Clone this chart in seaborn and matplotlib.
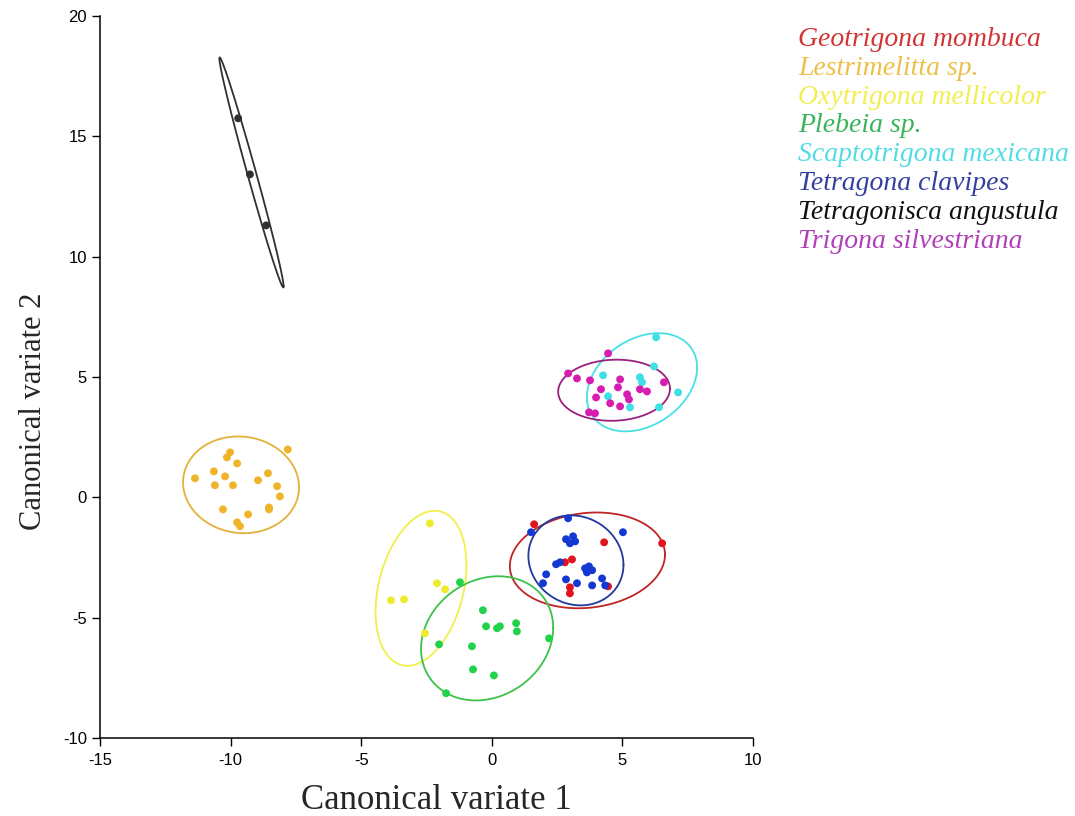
import matplotlib.pyplot as plt
import numpy as np
import pandas as pd
import seaborn as sns

# species, in legend order
species = [
    "Geotrigona mombuca",
    "Lestrimelitta sp.",
    "Oxytrigona mellicolor",
    "Plebeia sp.",
    "Scaptotrigona mexicana",
    "Tetragona clavipes",
    "Tetragonisca angustula",
    "Trigona silvestriana",
]
point_colors = ["#e0141e", "#f0b42a", "#ecec2a", "#22d24a", "#3ee0e6", "#1438d2", "#303030", "#d81cb0"]
ellipse_colors = ["#c02424", "#e2b23a", "#f0f04a", "#3cc24a", "#48e0e4", "#22389c", "#303030", "#9a2080"]
text_colors = ["#d23434", "#ecc048", "#f2ee50", "#38b45a", "#52dce4", "#3440a0", "#101010", "#b040b8"]

# canonical scores
geo_x = [1.62, 4.30, 6.52, 2.80, 3.07, 2.99, 2.99, 4.45]
geo_y = [-1.12, -1.87, -1.91, -2.70, -2.58, -3.74, -3.99, -3.70]

les_x = [-10.02, -10.14, -9.75, -11.36, -10.64, -10.21, -10.60, -9.91, -8.95, -8.57,
         -8.22, -8.11, -7.81, -10.29, -9.33, -8.53, -8.53, -9.75, -9.64]
les_y = [1.87, 1.66, 1.41, 0.79, 1.08, 0.87, 0.50, 0.50, 0.71, 1.00,
         0.46, 0.04, 1.99, -0.50, -0.71, -0.42, -0.50, -1.04, -1.20]

oxy_x = [-2.37, -2.10, -1.79, -3.86, -3.36, -2.56]
oxy_y = [-1.08, -3.57, -3.82, -4.28, -4.24, -5.65]

ple_x = [-1.22, -0.34, -0.22, 0.20, 0.31, 0.93, 0.96, 2.19, -2.02, -0.76, -0.72, 0.08, -1.75]
ple_y = [-3.53, -4.69, -5.36, -5.44, -5.36, -5.23, -5.57, -5.86, -6.11, -6.19, -7.15, -7.40, -8.14]

sca_x = [6.29, 6.21, 4.26, 5.67, 5.75, 7.13, 4.45, 5.29, 6.40]
sca_y = [6.65, 5.44, 5.07, 4.99, 4.78, 4.36, 4.20, 3.74, 3.74]

tet_x = [2.92, 1.50, 5.02, 2.84, 3.11, 3.19, 2.99, 2.46, 2.61, 3.57,
         3.72, 3.64, 3.84, 2.08, 1.96, 2.84, 3.26, 3.84, 4.22, 4.34]
tet_y = [-0.87, -1.45, -1.45, -1.74, -1.62, -1.83, -1.91, -2.78, -2.70, -2.95,
         -2.87, -3.12, -3.03, -3.20, -3.57, -3.41, -3.57, -3.66, -3.37, -3.66]

ang_x = [-9.71, -9.26, -8.64]
ang_y = [15.75, 13.42, 11.30]

tri_x = [4.45, 2.92, 3.26, 3.76, 4.91, 6.59, 4.83, 4.18, 5.67, 5.94,
         3.99, 5.18, 5.25, 4.53, 4.91, 3.72, 3.95]
tri_y = [5.98, 5.15, 4.94, 4.86, 4.90, 4.78, 4.57, 4.49, 4.49, 4.40,
         4.15, 4.28, 4.07, 3.91, 3.78, 3.53, 3.49]

# confidence ellipses: centre, half-extent in x and y, correlation
ell_cx = [3.66, -9.60, -2.71, -0.18, 5.75, 3.22, -9.20, 4.68]
ell_cy = [-2.62, 0.52, -3.78, -5.86, 4.78, -2.62, 13.50, 4.45]
ell_sx = [2.97, 2.22, 1.74, 2.53, 2.11, 1.82, 1.23, 2.14]
ell_sy = [1.99, 2.01, 3.22, 2.58, 2.04, 1.87, 4.78, 1.27]
ell_rho = [0.12, -0.05, 0.30, 0.17, 0.30, -0.10, -0.99, 0.05]

xs = [geo_x, les_x, oxy_x, ple_x, sca_x, tet_x, ang_x, tri_x]
ys = [geo_y, les_y, oxy_y, ple_y, sca_y, tet_y, ang_y, tri_y]

df = pd.concat(
    [pd.DataFrame({"cv1": x, "cv2": y, "species": sp}) for sp, x, y in zip(species, xs, ys)],
    ignore_index=True,
)

sns.set_style("ticks")
plt.rcParams["font.family"] = ["Liberation Sans", "DejaVu Sans"]
plt.rcParams["axes.unicode_minus"] = False

fig = plt.figure(figsize=(10.75, 8.16), dpi=100)
ax = fig.add_axes([0.093, 0.0956, 0.6075, 0.8848])

t = np.linspace(0, 2 * np.pi, 300)
for i in range(len(species)):
    ex = ell_cx[i] + ell_sx[i] * np.cos(t)
    ey = ell_cy[i] + ell_sy[i] * (ell_rho[i] * np.cos(t) + np.sqrt(1 - ell_rho[i] ** 2) * np.sin(t))
    ax.plot(ex, ey, color=ellipse_colors[i], lw=1.3, zorder=1)

sns.scatterplot(
    data=df, x="cv1", y="cv2", hue="species", hue_order=species,
    palette=point_colors, s=32, edgecolor="none", ax=ax, zorder=2,
)

ax.set_xlim(-15, 10)
ax.set_ylim(-10, 20)
ax.set_xticks([-15, -10, -5, 0, 5, 10])
ax.set_yticks([-10, -5, 0, 5, 10, 15, 20])
sns.despine(ax=ax)
ax.tick_params(labelsize=12, length=6, width=1, colors="black")
ax.tick_params(axis="x", pad=5)
for s in ["left", "bottom"]:
    ax.spines[s].set_color("black")
    ax.spines[s].set_linewidth(1.1)

ax.set_xlabel("Canonical variate 1", family="Liberation Serif", fontsize=25)
ax.set_ylabel("Canonical variate 2", family="Liberation Serif", fontsize=22)
ax.xaxis.set_label_coords(0.515, -0.064)
ax.yaxis.set_label_coords(-0.079, 0.452)

handles, labels = ax.get_legend_handles_labels()
ax.get_legend().remove()
leg = fig.legend(
    handles, labels, loc="upper left", bbox_to_anchor=(0.719, 0.998),
    frameon=False, handlelength=0, handletextpad=0, labelspacing=0.12,
    labelcolor=text_colors,
    prop={"family": "Liberation Serif", "style": "italic", "size": 20},
)
for h in leg.legend_handles:
    h.set_visible(False)

fig.savefig("out.png", dpi=100)
